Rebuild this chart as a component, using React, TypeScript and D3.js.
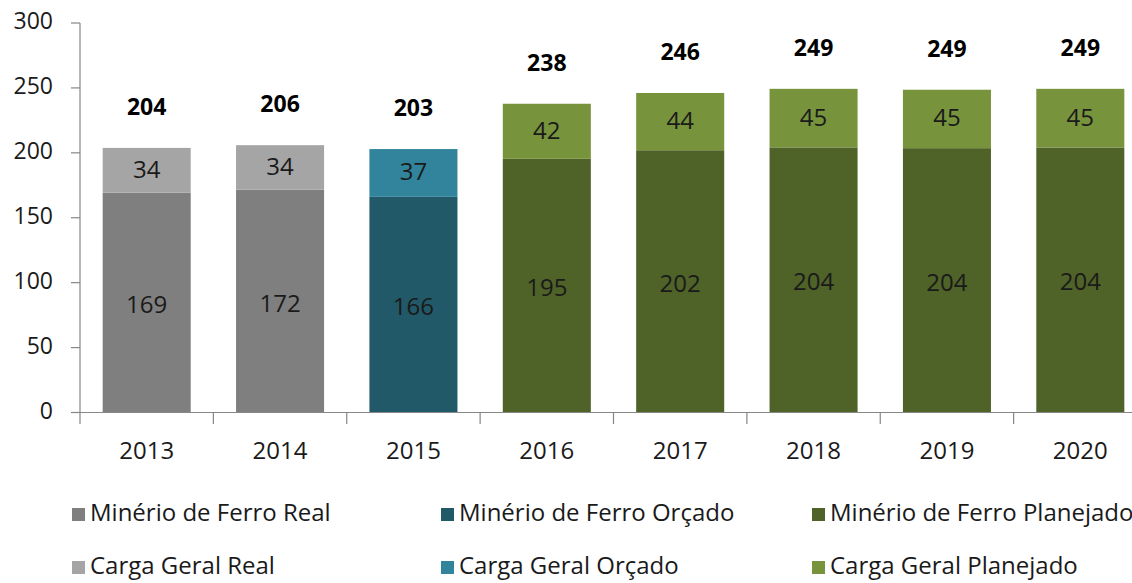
import React from "react";
import * as d3 from "d3";

const years = ["2013", "2014", "2015", "2016", "2017", "2018", "2019", "2020"];
const minerioValues = [169.4, 171.6, 166.1, 195.4, 202.0, 204.2, 203.6, 204.1];
const cargaValues = [34.4, 34.3, 36.8, 42.4, 44.1, 45.1, 45.0, 45.2];
const phase = ["Real", "Real", "Orçado", "Planejado", "Planejado", "Planejado", "Planejado", "Planejado"];
const yTicks = [0, 50, 100, 150, 200, 250, 300];

const minerioColors: Record<string, string> = { Real: "#7f7f7f", "Orçado": "#215968", Planejado: "#4f6228" };
const cargaColors: Record<string, string> = { Real: "#a5a5a5", "Orçado": "#31849b", Planejado: "#77933c" };

const legendItems = [
  { label: "Minério de Ferro Real", color: minerioColors.Real, col: 0, row: 0 },
  { label: "Minério de Ferro Orçado", color: minerioColors["Orçado"], col: 1, row: 0 },
  { label: "Minério de Ferro Planejado", color: minerioColors.Planejado, col: 2, row: 0 },
  { label: "Carga Geral Real", color: cargaColors.Real, col: 0, row: 1 },
  { label: "Carga Geral Orçado", color: cargaColors["Orçado"], col: 1, row: 1 },
  { label: "Carga Geral Planejado", color: cargaColors.Planejado, col: 2, row: 1 },
];

const FONT = "'Open Sans', sans-serif";

export default function App() {
  const W = 1132, H = 583;
  const x = d3.scaleBand().domain(years).range([80, 1147]).paddingInner(0.34).paddingOuter(0.17);
  const y = d3.scaleLinear().domain([0, 300]).range([412.5, 23]);
  const legendX = [72, 441, 812];
  const legendY = [515, 568];

  return (
    <svg width={W} height={H} style={{ position: "absolute", left: 0, top: 0, background: "#fff" }}>
      {years.map((yr, i) => {
        const m = minerioValues[i], c = cargaValues[i];
        const bx = x(yr)!, bw = x.bandwidth();
        const total = m + c;
        return (
          <g key={yr}>
            <rect x={bx} y={y(m)} width={bw} height={y(0) - y(m)} fill={minerioColors[phase[i]]} />
            <rect x={bx} y={y(total)} width={bw} height={y(m) - y(total)} fill={cargaColors[phase[i]]} />
            <text x={bx + bw / 2} y={(y(0) + y(m)) / 2 + 4} textAnchor="middle" dominantBaseline="middle" fontFamily={FONT} fontSize={24} fill="#1a1a1a">{Math.round(m)}</text>
            <text x={bx + bw / 2} y={(y(m) + y(total)) / 2 + 1} textAnchor="middle" dominantBaseline="middle" fontFamily={FONT} fontSize={24} fill="#1a1a1a">{Math.round(c)}</text>
            <text x={bx + bw / 2} y={y(total) - 39} textAnchor="middle" dominantBaseline="middle" fontFamily={FONT} fontWeight="bold" fontSize={23} fill="#000">{Math.round(total)}</text>
          </g>
        );
      })}
      <line x1={80} x2={80} y1={y(300)} y2={424} stroke="#868686" strokeWidth={1.2} />
      {yTicks.map((t) => (
        <g key={t}>
          <line x1={71} x2={80} y1={y(t)} y2={y(t)} stroke="#868686" strokeWidth={1.2} />
          <text x={53} y={y(t)} textAnchor="end" dominantBaseline="middle" fontFamily={FONT} fontSize={23} fill="#1a1a1a">{t}</text>
        </g>
      ))}
      <line x1={71} x2={1147} y1={y(0)} y2={y(0)} stroke="#868686" strokeWidth={1.2} />
      {years.map((yr, i) => {
        const bx = 80 + x.step() * (i + 1);
        return <line key={"t" + yr} x1={bx} x2={bx} y1={y(0)} y2={424} stroke="#868686" strokeWidth={1.2} />;
      })}
      {years.map((yr) => (
        <text key={"l" + yr} x={x(yr)! + x.bandwidth() / 2} y={453} textAnchor="middle" dominantBaseline="middle" fontFamily={FONT} fontSize={24} fill="#1a1a1a">{yr}</text>
      ))}
      {legendItems.map((it) => (
        <g key={it.label}>
          <rect x={legendX[it.col]} y={legendY[it.row] - 7} width={13} height={13} fill={it.color} />
          <text x={legendX[it.col] + 18} y={legendY[it.row]} dominantBaseline="middle" fontFamily={FONT} fontSize={24} fill="#1a1a1a">{it.label}</text>
        </g>
      ))}
    </svg>
  );
}
